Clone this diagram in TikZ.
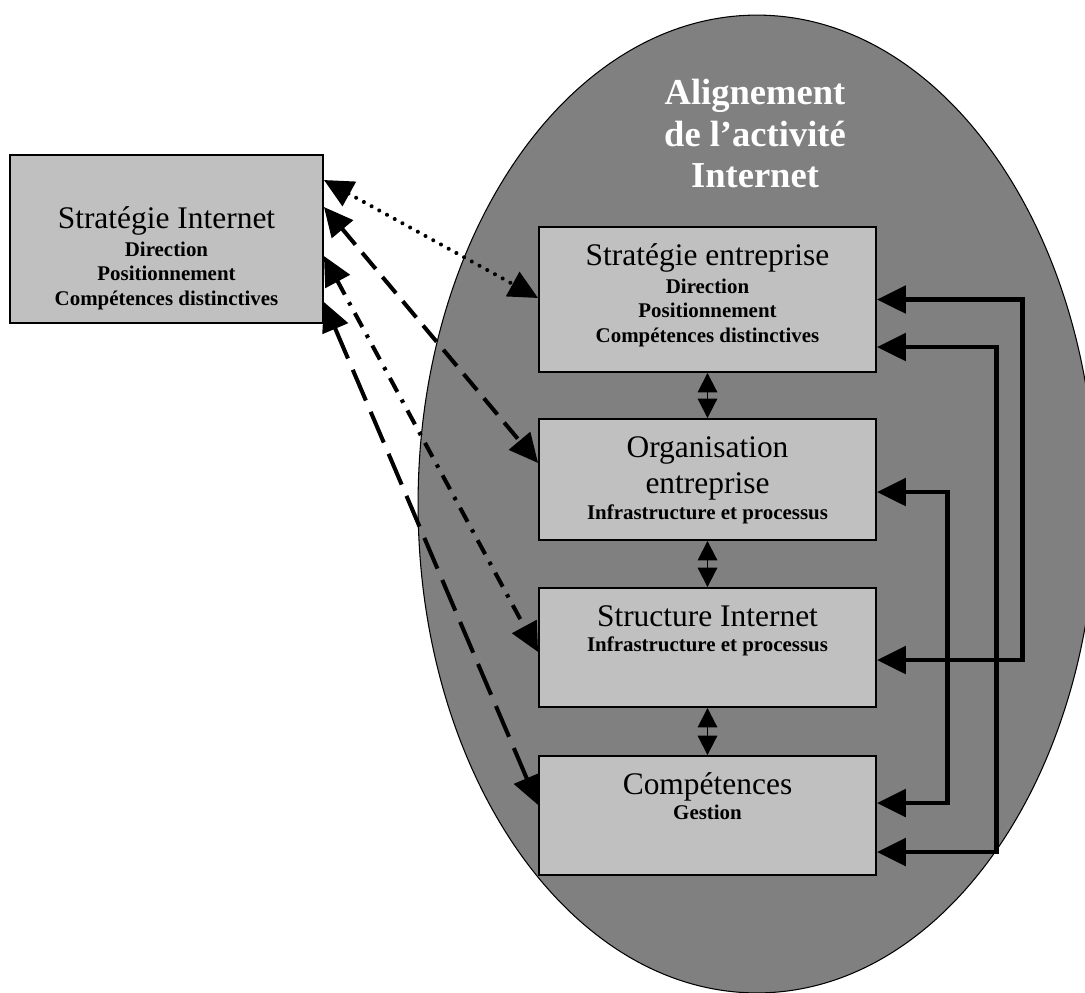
\documentclass[tikz,border=0pt]{standalone}
\usepackage{fontspec}
\setmainfont{Liberation Serif}
\usepackage{tikz}
\usetikzlibrary{calc,positioning,arrows.meta}
\definecolor{boxgray}{RGB}{192,192,192}
\definecolor{ovalgray}{RGB}{128,128,128}
\newcommand{\tfont}{\fontsize{17.9}{21}\selectfont\mdseries}

\begin{document}
\begin{tikzpicture}[x=0.02cm,y=-0.02cm,
	box/.style={draw,fill=boxgray,line width=1.1pt,inner sep=0pt,minimum width=6.74cm},
	txt/.style={align=center,inner sep=0pt,font=\fontsize{11.9}{13.9}\selectfont\bfseries},
	link/.style={<->,>={Triangle[length=16.5pt,width=15.5pt]},line width=2.8pt},
	slink/.style={<->,>={Triangle[length=16.5pt,width=15.5pt]},line width=2.3pt},
	pair/.style={<->,>={Triangle[length=11pt,width=11pt]},line width=1.1pt}]
			\useasboundingbox (0,0) rectangle (1085,992);
			
			%oval
			\draw[fill=ovalgray,line width=0.6pt] (757,504) ellipse [x radius=6.78cm,y radius=9.78cm];
			\node[align=center,inner sep=0pt,text=white,anchor=north,font=\fontsize{20.8}{23.6}\selectfont\bfseries] (titre) at (755,79) {Alignement\\de l’activité\\Internet};
			
			%boxes
			\node[box,minimum width=6.26cm,minimum height=3.36cm] (si) at (166.5,239) {};
			\node[box,minimum height=2.9cm] (se) at (707.5,299.5) {};
			\node[box,minimum height=2.42cm] (oe) at (707.5,479.5) {};
			\node[box,minimum height=2.38cm] (ss) at (707.5,647.5) {};
			\node[box,minimum height=2.38cm] (co) at (707.5,815.5) {};
			
			%box texts
			\node[txt,below=1.04cm of si.north] (si-t) {{\tfont Stratégie Internet}\\[2pt] Direction\\ Positionnement\\ Compétences distinctives};
			\node[txt,below=0.34cm of se.north] (se-t) {{\tfont Stratégie entreprise}\\[2pt] Direction\\ Positionnement\\ Compétences distinctives};
			\node[txt,below=0.36cm of oe.north] (oe-t) {{\tfont Organisation}\\[3.9pt] {\tfont entreprise}\\[0.8pt] Infrastructure et processus};
			\node[txt,below=0.36cm of ss.north] (ss-t) {{\tfont Structure Internet}\\[0.3pt] Infrastructure et processus};
			\node[txt,below=0.34cm of co.north] (co-t) {{\tfont Compétences}\\[0.3pt] Gestion};
			
			%arrows between boxes
			\draw[pair] (se) -- (oe);
			\draw[pair] (oe) -- (ss);
			\draw[pair] (ss) -- (co);
			
			%arrows on the right
			\draw[link] (se.east) -- ++(146,0) |- ($(ss.east)+(0,12.5)$);
			\draw[link] ($(se.east)+(0,47.5)$) -- ++(120,0) |- ($(co.east)+(0,36.5)$);
			\draw[link] ($(oe.east)+(0,12.5)$) -- ++(71,0) |- ($(co.east)+(0,-12.5)$);
			
			%arrows from the left box
			\draw[slink,line cap=round,dash pattern=on 0.01pt off 5pt] ($(si.east)+(0,-59)$) -- ($(se.west)+(0,-1.5)$);
			\draw[slink,dash pattern=on 12pt off 6pt] ($(si.east)+(0,-32)$) -- ($(oe.west)+(0,-16.5)$);
			\draw[slink,dash pattern=on 9pt off 5pt on 2pt off 5pt] ($(si.east)+(0,17)$) -- ($(ss.west)+(0,4.5)$);
			\draw[slink,dash pattern=on 19pt off 7pt] ($(si.east)+(0,63)$) -- ($(co.west)+(0,-10.5)$);
\end{tikzpicture}
\end{document}
